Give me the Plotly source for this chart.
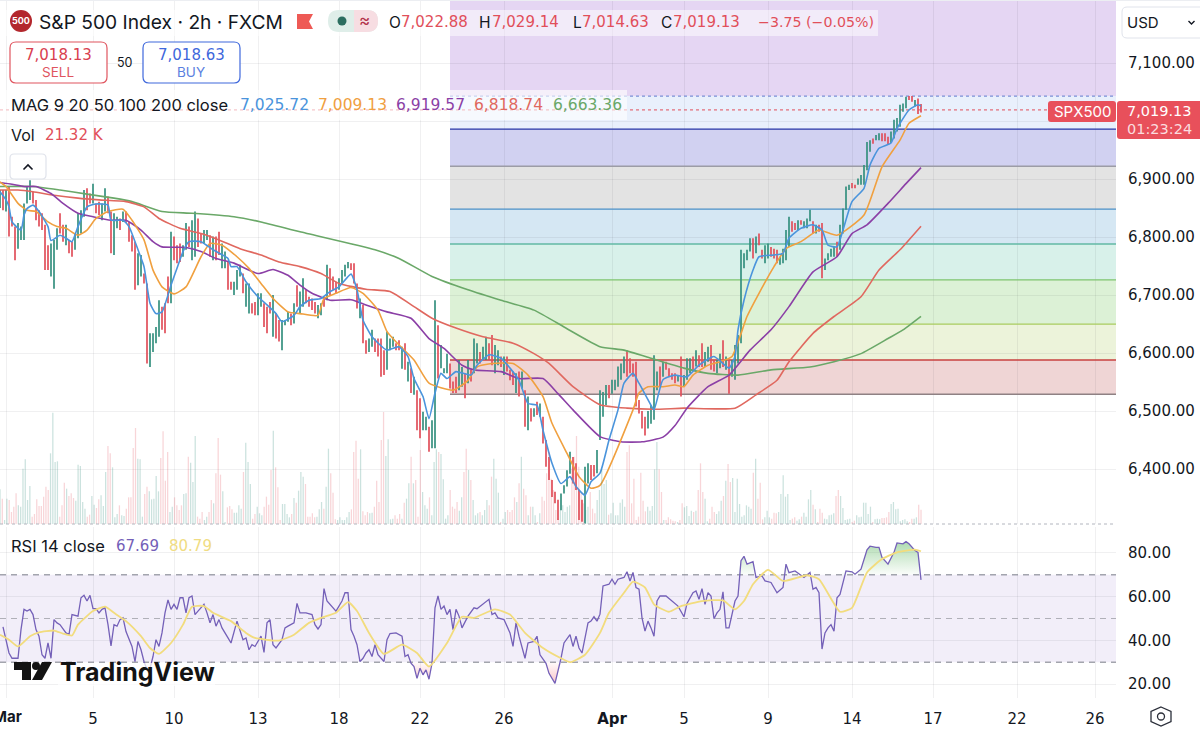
"""
plot.py - S&P 500 2h chart with moving averages, fib zones, volume and RSI.
"""
import plotly.graph_objects as go

# candles
opens = [
    6852, 6879, 6846, 6885, 6833, 6816, 6782, 6797, 6797, 6860,
    6866, 6876, 6862, 6844, 6839, 6819, 6784, 6734, 6713, 6780,
    6839, 6819, 6788, 6793, 6790, 6780, 6800, 6808, 6837, 6882,
    6873, 6860, 6856, 6859, 6831, 6846, 6868, 6842, 6771, 6817,
    6830, 6828, 6842, 6824, 6801, 6790, 6719, 6734, 6735, 6718,
    6578, 6604, 6619, 6630, 6678, 6684, 6730, 6688, 6799, 6784,
    6787, 6768, 6780, 6816, 6762, 6768, 6830, 6804, 6791, 6797,
    6801, 6762, 6799, 6807, 6748, 6748, 6755, 6721, 6702, 6711,
    6734, 6735, 6682, 6670, 6684, 6686, 6667, 6682, 6684, 6678,
    6686, 6630, 6666, 6655, 6607, 6650, 6656, 6666, 6653, 6715,
    6670, 6682, 6707, 6695, 6692, 6686, 6662, 6667, 6695, 6693,
    6744, 6730, 6721, 6711, 6722, 6734, 6748, 6753, 6753, 6718,
    6662, 6681, 6620, 6604, 6613, 6623, 6623, 6623, 6603, 6573,
    6607, 6613, 6615, 6620, 6575, 6615, 6553, 6572, 6530, 6534,
    6520, 6469, 6469, 6471, 6438, 6438, 6646, 6576, 6566, 6567,
    6580, 6549, 6557, 6538, 6544, 6563, 6550, 6569, 6567, 6584,
    6600, 6590, 6590, 6615, 6629, 6567, 6581, 6592, 6564, 6592,
    6569, 6566, 6533, 6566, 6541, 6534, 6469, 6503, 6492, 6514,
    6492, 6488, 6448, 6419, 6379, 6359, 6345, 6331, 6360, 6372,
    6394, 6419, 6408, 6362, 6345, 6308, 6377, 6405, 6405, 6395,
    6452, 6492, 6512, 6543, 6532, 6538, 6544, 6556, 6567, 6603,
    6589, 6580, 6583, 6517, 6498, 6488, 6472, 6480, 6487, 6538,
    6575, 6561, 6583, 6572, 6563, 6563, 6553, 6592, 6544, 6556,
    6567, 6592, 6579, 6594, 6615, 6578, 6587, 6612, 6586, 6567,
    6576, 6620, 6573, 6586, 6561, 6556, 6584, 6619, 6748, 6762,
    6777, 6796, 6774, 6804, 6776, 6757, 6765, 6781, 6778, 6776,
    6754, 6757, 6762, 6785, 6825, 6822, 6814, 6827, 6817, 6817,
    6829, 6825, 6808, 6819, 6822, 6745, 6762, 6768, 6768, 6790,
    6780, 6808, 6849, 6883, 6891, 6888, 6892, 6892, 6892, 6917,
    6949, 6968, 6969, 6969, 6977, 6977, 6971, 6964, 6972, 6984,
    6992, 7018, 7024, 7041, 7041, 7027, 7037, 7022.88,
]
highs = [
    6881, 6881, 6881, 6887, 6835, 6818, 6824, 6818, 6858, 6887,
    6898, 6878, 6864, 6846, 6841, 6821, 6786, 6789, 6795, 6815,
    6841, 6821, 6821, 6795, 6792, 6806, 6841, 6846, 6881, 6884,
    6875, 6892, 6858, 6861, 6858, 6884, 6870, 6844, 6841, 6835,
    6832, 6844, 6844, 6826, 6803, 6792, 6772, 6769, 6737, 6720,
    6634, 6634, 6645, 6691, 6680, 6686, 6732, 6809, 6801, 6786,
    6789, 6786, 6824, 6818, 6829, 6844, 6832, 6806, 6812, 6812,
    6803, 6801, 6801, 6809, 6789, 6775, 6757, 6723, 6723, 6743,
    6752, 6737, 6720, 6720, 6686, 6688, 6703, 6703, 6686, 6680,
    6688, 6700, 6668, 6657, 6657, 6657, 6671, 6668, 6686, 6717,
    6706, 6729, 6709, 6697, 6694, 6688, 6683, 6686, 6697, 6752,
    6746, 6732, 6723, 6729, 6743, 6752, 6757, 6755, 6755, 6720,
    6694, 6683, 6622, 6625, 6640, 6625, 6625, 6625, 6605, 6637,
    6625, 6628, 6617, 6622, 6611, 6617, 6585, 6574, 6559, 6536,
    6522, 6499, 6490, 6473, 6484, 6691, 6648, 6614, 6574, 6599,
    6582, 6551, 6559, 6588, 6576, 6565, 6588, 6571, 6625, 6617,
    6602, 6611, 6628, 6617, 6631, 6614, 6605, 6594, 6594, 6594,
    6571, 6568, 6565, 6568, 6568, 6536, 6525, 6505, 6505, 6516,
    6513, 6490, 6450, 6421, 6381, 6361, 6347, 6358, 6372, 6398,
    6430, 6421, 6410, 6364, 6347, 6404, 6410, 6407, 6407, 6433,
    6536, 6533, 6545, 6545, 6554, 6554, 6577, 6582, 6594, 6605,
    6591, 6582, 6585, 6519, 6500, 6490, 6500, 6510, 6596, 6568,
    6577, 6585, 6585, 6574, 6565, 6565, 6562, 6594, 6562, 6591,
    6591, 6594, 6605, 6596, 6617, 6602, 6611, 6614, 6588, 6588,
    6599, 6622, 6594, 6588, 6588, 6614, 6631, 6778, 6772, 6778,
    6798, 6798, 6801, 6806, 6778, 6786, 6789, 6783, 6780, 6778,
    6766, 6780, 6812, 6835, 6827, 6824, 6829, 6829, 6827, 6832,
    6847, 6827, 6821, 6821, 6824, 6763, 6772, 6780, 6783, 6792,
    6821, 6849, 6887, 6890, 6893, 6890, 6901, 6907, 6924, 6964,
    6967, 6970, 6976, 6979, 6979, 6979, 6973, 6982, 7002, 7005,
    7028, 7030, 7042, 7043, 7043, 7036, 7039, 7029.14,
]
lows = [
    6850, 6846, 6844, 6801, 6818, 6760, 6780, 6795, 6795, 6858,
    6864, 6858, 6829, 6818, 6812, 6743, 6743, 6732, 6711, 6778,
    6806, 6792, 6786, 6772, 6766, 6778, 6798, 6806, 6835, 6846,
    6858, 6858, 6841, 6838, 6829, 6844, 6841, 6772, 6769, 6815,
    6812, 6826, 6824, 6792, 6775, 6709, 6717, 6732, 6720, 6582,
    6576, 6602, 6617, 6628, 6640, 6634, 6686, 6686, 6760, 6755,
    6757, 6766, 6778, 6783, 6760, 6766, 6783, 6789, 6789, 6795,
    6766, 6760, 6760, 6769, 6746, 6746, 6709, 6709, 6700, 6709,
    6732, 6703, 6680, 6668, 6668, 6665, 6665, 6680, 6645, 6634,
    6668, 6628, 6625, 6620, 6605, 6648, 6654, 6648, 6651, 6680,
    6668, 6680, 6686, 6680, 6674, 6668, 6660, 6665, 6680, 6691,
    6700, 6709, 6703, 6709, 6720, 6732, 6746, 6743, 6720, 6677,
    6660, 6617, 6599, 6602, 6611, 6602, 6594, 6559, 6562, 6571,
    6605, 6611, 6605, 6605, 6573, 6571, 6551, 6531, 6528, 6467,
    6453, 6467, 6467, 6430, 6436, 6436, 6556, 6574, 6565, 6565,
    6539, 6531, 6531, 6536, 6542, 6522, 6548, 6551, 6565, 6582,
    6582, 6588, 6588, 6588, 6579, 6565, 6579, 6576, 6562, 6568,
    6553, 6545, 6531, 6525, 6539, 6473, 6467, 6482, 6490, 6493,
    6490, 6444, 6404, 6381, 6352, 6341, 6312, 6329, 6358, 6370,
    6392, 6375, 6364, 6312, 6309, 6306, 6375, 6381, 6387, 6393,
    6450, 6490, 6510, 6522, 6530, 6536, 6542, 6554, 6565, 6559,
    6565, 6559, 6508, 6496, 6470, 6458, 6470, 6478, 6485, 6536,
    6542, 6559, 6571, 6559, 6554, 6548, 6551, 6525, 6542, 6554,
    6565, 6571, 6577, 6576, 6576, 6576, 6585, 6571, 6568, 6565,
    6574, 6576, 6571, 6530, 6559, 6554, 6582, 6617, 6746, 6760,
    6775, 6763, 6772, 6786, 6763, 6755, 6763, 6766, 6763, 6755,
    6752, 6755, 6760, 6783, 6809, 6812, 6812, 6821, 6815, 6815,
    6827, 6806, 6806, 6809, 6729, 6743, 6760, 6766, 6766, 6766,
    6778, 6806, 6847, 6881, 6884, 6884, 6890, 6890, 6890, 6915,
    6947, 6961, 6967, 6967, 6965, 6965, 6959, 6962, 6970, 6982,
    6990, 7016, 7022, 7036, 7033, 7025, 7012, 7014.63,
]
closes = [
    6879, 6848, 6879, 6803, 6820, 6762, 6822, 6816, 6856, 6885,
    6896, 6860, 6831, 6820, 6814, 6745, 6745, 6787, 6793, 6813,
    6808, 6794, 6819, 6774, 6768, 6804, 6839, 6844, 6879, 6848,
    6860, 6890, 6843, 6840, 6856, 6882, 6843, 6774, 6839, 6833,
    6814, 6842, 6826, 6794, 6777, 6711, 6770, 6767, 6722, 6584,
    6632, 6632, 6643, 6689, 6642, 6636, 6688, 6807, 6762, 6757,
    6759, 6784, 6822, 6785, 6827, 6842, 6785, 6791, 6810, 6810,
    6768, 6799, 6762, 6771, 6787, 6773, 6711, 6711, 6721, 6741,
    6750, 6705, 6718, 6718, 6670, 6667, 6701, 6701, 6647, 6636,
    6670, 6698, 6627, 6622, 6655, 6655, 6669, 6650, 6684, 6682,
    6704, 6727, 6688, 6682, 6676, 6670, 6681, 6684, 6682, 6750,
    6702, 6711, 6705, 6727, 6741, 6750, 6755, 6745, 6722, 6679,
    6692, 6619, 6601, 6623, 6638, 6604, 6596, 6561, 6564, 6635,
    6623, 6626, 6607, 6607, 6609, 6573, 6583, 6533, 6557, 6469,
    6455, 6497, 6488, 6432, 6482, 6689, 6558, 6612, 6573, 6597,
    6541, 6533, 6533, 6586, 6574, 6524, 6586, 6553, 6623, 6615,
    6584, 6609, 6626, 6590, 6581, 6612, 6603, 6578, 6592, 6570,
    6555, 6547, 6563, 6527, 6566, 6475, 6523, 6484, 6503, 6495,
    6511, 6446, 6406, 6383, 6354, 6343, 6314, 6356, 6370, 6396,
    6428, 6377, 6366, 6314, 6311, 6402, 6408, 6383, 6389, 6431,
    6534, 6531, 6543, 6524, 6552, 6552, 6575, 6580, 6592, 6561,
    6567, 6561, 6510, 6498, 6472, 6460, 6498, 6508, 6594, 6566,
    6544, 6583, 6573, 6561, 6556, 6550, 6560, 6527, 6560, 6589,
    6589, 6573, 6603, 6578, 6578, 6600, 6609, 6573, 6570, 6586,
    6597, 6578, 6592, 6532, 6586, 6612, 6629, 6776, 6770, 6776,
    6796, 6765, 6799, 6788, 6765, 6784, 6787, 6768, 6765, 6757,
    6764, 6778, 6810, 6833, 6811, 6814, 6827, 6823, 6825, 6830,
    6845, 6808, 6819, 6811, 6731, 6761, 6770, 6778, 6781, 6768,
    6819, 6847, 6885, 6888, 6886, 6886, 6899, 6905, 6922, 6962,
    6965, 6963, 6974, 6977, 6967, 6967, 6961, 6980, 7000, 7003,
    7026, 7028, 7040, 7038, 7035, 7034, 7014, 7019.13,
]

# volume in thousands, finer spacing than the candles above
volumes = [
    52, 38, 6, 38, 36, 18, 26, 46, 28, 26, 83, 97, 36, 57, 11, 15, 37, 27, 27, 41,
    56, 51, 106, 167, 93, 94, 11, 28, 62, 53, 42, 46, 39, 35, 89, 87, 33, 23, 11, 14,
    42, 29, 24, 37, 43, 27, 78, 117, 106, 85, 10, 15, 28, 13, 12, 23, 40, 40, 114, 144,
    98, 97, 11, 45, 56, 49, 37, 38, 72, 49, 99, 139, 65, 108, 18, 26, 40, 28, 21, 28,
    45, 46, 101, 92, 63, 132, 11, 8, 18, 6, 11, 18, 36, 31, 76, 129, 74, 49, 3, 25,
    27, 22, 17, 17, 28, 23, 78, 122, 93, 60, 8, 15, 26, 16, 13, 26, 41, 29, 81, 140,
    85, 55, 6, 30, 30, 15, 10, 15, 39, 32, 50,
    78, 71, 60, 11, 11, 16, 10, 11, 22, 33, 23, 56, 113, 76, 47, 7, 6, 10, 6, 6,
    10, 18, 22, 108, 125, 68, 112, 19, 13, 18, 16, 17, 26, 65, 33, 126, 168, 102, 127, 7,
    8, 13, 8, 15, 8, 32, 38, 61, 101, 61, 66, 11, 111, 48, 28, 23, 40, 13, 93, 112,
    108, 105, 67, 8, 13, 51, 26, 23, 33, 20, 40, 78, 113, 81, 66, 36, 13, 16, 18, 13,
    21, 36, 28, 71, 98, 68, 47, 3, 8, 18, 21, 18, 21, 40, 33, 61, 101, 53, 43, 13,
    26, 26, 13, 3, 16, 41, 35, 76, 108, 68, 51, 21, 8, 21, 28, 18, 26, 28, 83, 101,
    132, 86, 46, 31, 21, 26, 48, 23, 16, 36, 51,
    82, 60, 66, 14, 16, 32, 13, 13, 32, 37, 26, 108, 118, 31, 68, 6, 11, 77, 35, 19, 26,
    20, 27, 82, 123, 82, 48, 6, 6, 10, 7, 5, 4, 3, 6, 31, 25, 27, 12, 20, 18,
    20, 51, 91, 48, 38, 4, 8, 26, 18, 15, 19, 35, 42, 65, 90, 63, 69, 18, 68, 30,
    11, 13, 28, 26, 23, 77, 98, 38, 62, 7, 10, 20, 10, 8, 17, 16, 18, 45, 73, 41,
    45, 6, 8, 10, 5, 7, 11, 17, 11, 37, 51, 29, 22, 3, 23, 17, 8, 7, 13, 14,
    16, 42, 51, 42, 24, 6, 7, 8, 3, 5, 13, 10, 11, 32, 32, 15, 26, 3, 7, 8,
    7, 9, 9, 10, 18, 30, 33, 22, 23, 4, 6, 7, 4, 3, 8, 8, 10, 29, 21.32,
]

# moving averages, sampled where the line changes direction
ma9_x = [
    0, 2, 3, 4, 7, 8, 9, 11, 13, 16, 17, 20, 22, 24, 26, 29, 32, 36, 37, 41, 43, 46, 48, 50,
    52, 54, 57, 59, 61, 63, 67, 71, 76, 77, 79, 82, 86, 89, 92, 94, 98, 100, 103, 107, 110,
    113, 117, 119, 121, 124, 129, 133, 136, 138, 141, 143, 145, 147, 149, 152, 157, 159, 163,
    167, 170, 173, 176, 179, 181, 184, 187, 190, 192, 195, 197, 200, 203, 206, 208, 211, 213,
    217, 218, 221, 225, 229, 233, 238, 243, 245, 246, 248, 251, 253, 258, 261, 263, 267, 271,
    274, 276, 279, 281, 284, 288, 290, 293, 297, 299, 303, 306, 307,
]
ma9 = [
    6878, 6864, 6852, 6826, 6812, 6838, 6849, 6855, 6844, 6818, 6794, 6803, 6798, 6792, 6818,
    6852, 6857, 6855, 6829, 6829, 6818, 6778, 6749, 6686, 6668, 6671, 6717, 6746, 6775, 6792,
    6792, 6778, 6763, 6749, 6749, 6723, 6697, 6683, 6668, 6654, 6665, 6680, 6691, 6694, 6706,
    6714, 6736, 6709, 6657, 6628, 6605, 6611, 6594, 6556, 6525, 6487, 6531, 6565, 6556, 6568,
    6562, 6579, 6597, 6591, 6574, 6553, 6513, 6510, 6467, 6410, 6375, 6387, 6370, 6355, 6378,
    6393, 6450, 6502, 6548, 6565, 6548, 6510, 6502, 6554, 6562, 6559, 6579, 6594, 6574, 6594,
    6640, 6691, 6743, 6766, 6769, 6772, 6798, 6815, 6821, 6812, 6786, 6783, 6812, 6861, 6884,
    6924, 6953, 6962, 6987, 7019, 7028, 7025.72,
]
ma20_x = [
    0, 2, 6, 9, 12, 16, 19, 22, 26, 29, 32, 36, 41, 44, 48, 51, 54, 58, 62, 67, 70, 74, 79,
    83, 87, 91, 96, 100, 106, 108, 112, 117, 121, 126, 129, 133, 138, 143, 151, 156, 159, 164,
    171, 176, 181, 184, 189, 193, 197, 200, 211, 213, 216, 221, 225, 228, 231, 236, 240, 244,
    249, 253, 258, 262, 267, 273, 279, 288, 294, 300, 303, 307,
]
ma20 = [
    6895, 6887, 6858, 6846, 6844, 6826, 6818, 6815, 6803, 6812, 6832, 6844, 6848, 6829, 6795,
    6743, 6714, 6702, 6714, 6766, 6789, 6786, 6766, 6746, 6720, 6694, 6671, 6668, 6665, 6694,
    6703, 6713, 6703, 6674, 6637, 6614, 6588, 6548, 6536, 6553, 6576, 6582, 6582, 6562, 6525,
    6479, 6427, 6387, 6367, 6372, 6502, 6531, 6542, 6542, 6545, 6542, 6562, 6579, 6585, 6594,
    6663, 6703, 6749, 6780, 6792, 6812, 6803, 6838, 6921, 6967, 6996, 7009.13,
]
ma50_x = [
    0, 4, 8, 12, 17, 21, 26, 31, 37, 42, 47, 51, 54, 62, 67, 72, 78, 86, 91, 96, 100, 104, 110,
    117, 122, 129, 137, 143, 148, 154, 158, 167, 173, 181, 186, 191, 200, 207, 214, 221, 225,
    229, 236, 243, 250, 257, 263, 271, 279, 284, 289, 296, 302, 307,
]
ma50 = [
    6894, 6891, 6887, 6887, 6875, 6858, 6841, 6835, 6829, 6829, 6812, 6792, 6783, 6782, 6775,
    6763, 6755, 6737, 6744, 6734, 6717, 6703, 6691, 6692, 6683, 6671, 6660, 6625, 6608, 6579,
    6571, 6568, 6556, 6556, 6530, 6502, 6456, 6447, 6447, 6455, 6475, 6505, 6542, 6562, 6605,
    6640, 6680, 6740, 6766, 6806, 6821, 6858, 6892, 6919.57,
]
ma100_x = [
    0, 6, 11, 18, 26, 33, 42, 48, 53, 60, 67, 73, 80, 87, 93, 100, 107, 113, 122, 130, 138, 144,
    152, 161, 171, 178, 183, 191, 200, 209, 218, 228, 245, 252, 259, 263, 271, 278, 287, 293,
    300, 307,
]
ma100 = [
    6881, 6881, 6878, 6872, 6867, 6864, 6861, 6852, 6832, 6815, 6806, 6795, 6780, 6769, 6757,
    6749, 6737, 6720, 6710, 6706, 6680, 6660, 6643, 6628, 6617, 6599, 6582, 6542, 6511, 6505,
    6503, 6505, 6505, 6528, 6553, 6585, 6634, 6663, 6697, 6743, 6778, 6818.74,
]
ma200_x = [
    0, 11, 20, 29, 38, 44, 54, 64, 78, 87, 100, 125, 133, 144, 156, 167, 178, 189, 200, 208,
    217, 228, 236, 246, 257, 270, 278, 287, 296, 301, 307,
]
ma200 = [
    6887, 6887, 6881, 6874, 6867, 6861, 6844, 6841, 6835, 6826, 6809, 6778, 6763, 6732, 6709,
    6691, 6674, 6642, 6611, 6605, 6591, 6574, 6565, 6562, 6571, 6576, 6585, 6599, 6625, 6640,
    6663.36,
]

# fib levels drawn from the swing, top to bottom
fib_top = 7209
fib_levels = [7043, 6986, 6922, 6848, 6788, 6726, 6650, 6588, 6529]
fib_fills = [
    "#e5d6f3", "#e9f0fc", "#d1d1f1", "#e3e3e3", "#d5e7f3",
    "#d8f1ea", "#dcf1d6", "#ecf3da", "#efd5d5",
]
fib_lines = [
    "#7b8fd6", "#2433a6", "#9c9ca6", "#4a8fc7", "#62b8a4",
    "#7fc46e", "#a9cc5e", "#c8403f", "#8f8184",
]
fib_start = 150

rsi_x = [
    1, 2, 3, 4, 6, 7, 8, 9, 10, 11, 12, 13, 14, 15, 16, 17, 18, 19, 20, 22, 23, 24, 26, 27, 28,
    29, 30, 31, 32, 33, 34, 35, 36, 37, 38, 39, 40, 41, 42, 44, 45, 46, 47, 48, 49, 50, 51, 52,
    53, 54, 55, 56, 57, 58, 59, 60, 61, 62, 63, 64, 65, 66, 68, 69, 70, 71, 72, 73, 74, 76, 77,
    79, 81, 82, 83, 84, 85, 87, 88, 89, 90, 91, 92, 94, 95, 96, 98, 99, 100, 102, 104, 105, 106,
    107, 108, 109, 110, 111, 112, 114, 115, 116, 117, 118, 119, 120, 121, 122, 123, 124, 125,
    126, 128, 129, 130, 132, 134, 135, 136, 137, 138, 139, 140, 141, 142, 143, 144, 145, 146,
    147, 148, 149, 150, 151, 152, 153, 154, 156, 158, 159, 161, 163, 164, 165, 166, 168, 170,
    171, 172, 173, 175, 176, 178, 179, 180, 182, 183, 185, 187, 188, 190, 191, 192, 193, 194,
    196, 197, 198, 199, 200, 201, 203, 204, 205, 206, 208, 209, 210, 211, 212, 213, 214, 215,
    216, 217, 218, 219, 220, 222, 224, 226, 228, 229, 231, 232, 233, 234, 235, 236, 237, 238,
    239, 240, 241, 242, 243, 245, 246, 247, 248, 249, 251, 252, 254, 255, 257, 259, 261, 262,
    263, 265, 268, 270, 271, 272, 273, 274, 275, 276, 277, 278, 279, 280, 282, 284, 285, 287,
    289, 290, 292, 293, 294, 296, 298, 299, 301, 302, 303, 305, 306, 307,
]
rsi = [
    46.2, 40.3, 34.2, 31.8, 31.8, 44.9, 54.2, 53.4, 54.2, 51.8, 44.9, 41.9, 33.4, 31.8, 38.8,
    31.8, 49.5, 48, 47.2, 43.4, 42.6, 51.8, 51.1, 59.5, 60.6, 58, 60.6, 54.5, 54.5, 52.6, 54.2,
    54.9, 47.2, 37.5, 47.2, 46.5, 49.5, 50.3, 44, 37.2, 30.3, 39.5, 35.7, 30.3, 26.5, 27.2, 32.6,
    40.3, 37.2, 43.4, 52.6, 58.5, 54.2, 56.5, 54.2, 59.5, 59.5, 52.6, 59.5, 60.3, 51.8, 53.4,
    56.5, 52.6, 48, 51.8, 46.5, 49.5, 45.7, 41.1, 38.8, 48.8, 40.3, 41.1, 35.7, 38, 37.2, 41.9,
    34.5, 48, 49.5, 38, 36.5, 40.3, 45.7, 46.5, 48, 56.9, 52.6, 52.6, 51.8, 47.2, 45.2, 47.2,
    63.7, 58, 56.5, 54.9, 53.4, 58, 61.8, 61.8, 44.9, 41.9, 38, 30.3, 31.8, 34.2, 35.7, 32.6,
    38, 33.4, 30.3, 40.3, 43.1, 43.4, 41.9, 32.6, 33.4, 29.5, 28, 22.6, 27.2, 24.2, 26.5, 22.2,
    29.5, 54.9, 60.3, 54.2, 55.7, 51.8, 54.2, 44.9, 54.2, 51.1, 45.7, 51.1, 54.9, 54.5, 56.5,
    58.8, 51.8, 52.6, 50.3, 49.5, 43.4, 37.2, 48, 41.9, 31.8, 38.8, 39.5, 41.9, 33.4, 29.5, 24.9,
    20.3, 31.8, 38.8, 42.6, 37.2, 41.9, 36.5, 34.2, 48, 48.8, 50.8, 48.8, 52, 64.9, 65.7, 68,
    65.7, 68, 68.8, 71.4, 67.2, 71.1, 64.2, 63.4, 50.3, 44.2, 48.8, 45.7, 41.9, 58, 60.3, 60.3,
    58, 55.7, 50.8, 56.9, 61.8, 62.6, 58.8, 63.7, 56.5, 61.8, 60.3, 49.9, 52.6, 54.2, 62.2, 45.7,
    45.7, 58, 60.3, 76.5, 78.5, 74.9, 76, 68.8, 69.5, 67.2, 66.5, 61.8, 64.2, 74.9, 71, 71.8,
    68.8, 71.1, 63.4, 64.2, 61.8, 36, 43.4, 45.7, 47.2, 44.2, 59.5, 61, 71.8, 71.4, 70.3, 72.6,
    81.5, 83.1, 82.6, 82.6, 78, 74.9, 80.3, 84.6, 84.2, 85.2, 84.2, 81.1, 80.3, 67.69,
]
rsi_ma_x = [
    0, 3, 6, 10, 13, 18, 21, 24, 26, 31, 35, 38, 42, 47, 50, 53, 57, 61, 64, 68, 71, 77, 82, 85,
    93, 98, 103, 107, 112, 116, 119, 123, 128, 134, 139, 143, 149, 154, 158, 165, 170, 175, 181,
    187, 190, 195, 200, 203, 208, 211, 215, 218, 223, 227, 234, 241, 245, 248, 251, 256, 261,
    269, 273, 280, 284, 289, 294, 299, 305, 307,
]
rsi_ma = [
    42.6, 40.3, 37.2, 41.9, 43.7, 44.5, 43.1, 42.2, 47.2, 53.4, 55.4, 52.6, 48.8, 41.9, 36.5, 33.8,
    38.8, 47.2, 55.4, 55.7, 52.6, 48.8, 43.4, 41.1, 39.9, 42.6, 48, 50.3, 52.6, 57.5, 53.4, 43.4,
    33.8, 38, 34.2, 28, 38.8, 50.8, 50.3, 54.2, 51.8, 43.4, 36.5, 31.8, 30, 33.4, 43.4, 52.6, 61.8,
    66.9, 64.2, 56.5, 53.1, 55.7, 58, 58.3, 54.2, 58, 65.7, 72.3, 67.2, 69.8, 68, 53.1, 54.9, 71.1,
    77.2, 80.3, 81.5, 80.79,
]

price_ticks = [7100, 7000, 6900, 6800, 6700, 6600, 6500, 6400]
# 7,000 keeps its gridline but the label sits under the last price tag
price_labels = ["7,100.00", "", "6,900.00", "6,800.00", "6,700.00", "6,600.00", "6,500.00", "6,400.00"]
rsi_ticks = [80, 60, 40, 20]
time_ticks = [2, 31, 58, 86, 113, 140, 168, 204, 228, 256, 284, 311, 339, 365]
time_labels = ["", "5", "10", "13", "18", "22", "26", "<b>Apr</b>", "5", "9", "14", "17", "22", "26"]

W, H = 1200, 731
UP = "#35907f"
DOWN = "#e14f5a"
GRID = "rgba(42,46,57,0.07)"
TEXT = "#131722"
FONT = "Inter"
NUM_FONT = "DejaVu Sans"
X_END = 372


def px(x):
    return x / W


def py(y):
    return 1 - y / H


def paper_rect(x0, y0, x1, y1, **kw):
    return dict(type="rect", xref="paper", yref="paper", x0=px(x0), x1=px(x1), y0=py(y0), y1=py(y1), **kw)


def rounded(x0, y0, x1, y1, r):
    # rounded rectangle in paper coordinates
    a, b, c, d = px(x0), py(y0), px(x1), py(y1)
    rx, ry = r / W, r / H
    return (
        f"M {a + rx},{b} L {c - rx},{b} Q {c},{b} {c},{b - ry} L {c},{d + ry} Q {c},{d} {c - rx},{d} "
        f"L {a + rx},{d} Q {a},{d} {a},{d + ry} L {a},{b - ry} Q {a},{b} {a + rx},{b} Z"
    )


def poly(points):
    return "M " + " L ".join(f"{px(x)},{py(y)}" for x, y in points) + " Z"


fig = go.Figure()

# volume sits behind the candles
vol_x = [i * 307 / (len(volumes) - 1) for i in range(len(volumes))]
vol_colors = []
for i in range(len(volumes)):
    j = min(int(round(vol_x[i])), len(closes) - 1)
    vol_colors.append("rgba(53,144,127,0.26)" if closes[j] >= opens[j] else "rgba(225,79,90,0.24)")
fig.add_trace(go.Bar(x=vol_x, y=volumes, yaxis="y2", marker=dict(color=vol_colors, line_width=0), width=0.42))

# tickless ohlc bars, the candles on this chart are barely wider than their wicks
fig.add_trace(go.Ohlc(
    x=list(range(len(closes))), open=opens, high=highs, low=lows, close=closes,
    increasing=dict(line=dict(color=UP, width=1.7)),
    decreasing=dict(line=dict(color=DOWN, width=1.7)),
    tickwidth=0,
))

ma_series = [
    (ma200_x, ma200, "#6aa868"),
    (ma100_x, ma100, "#e0685f"),
    (ma50_x, ma50, "#8b3fa6"),
    (ma20_x, ma20, "#f0a03f"),
    (ma9_x, ma9, "#4a94dc"),
]
for xs, ys, color in ma_series:
    fig.add_trace(go.Scatter(x=xs, y=ys, mode="lines", line=dict(color=color, width=1.6, shape="spline", smoothing=0.5)))

# RSI with the overbought / oversold gradient
over = [max(v, 70) for v in rsi]
under = [min(v, 30) for v in rsi]
fig.add_trace(go.Scatter(x=rsi_x, y=[70] * len(rsi_x), mode="lines", line_width=0, xaxis="x2", yaxis="y3"))
fig.add_trace(go.Scatter(
    x=rsi_x, y=over, mode="lines", line_width=0, xaxis="x2", yaxis="y3", fill="tonexty",
    fillgradient=dict(type="vertical", start=70, stop=85,
                      colorscale=[[0, "rgba(76,175,80,0.02)"], [1, "rgba(76,175,80,0.45)"]]),
))
fig.add_trace(go.Scatter(x=rsi_x, y=[30] * len(rsi_x), mode="lines", line_width=0, xaxis="x2", yaxis="y3"))
fig.add_trace(go.Scatter(
    x=rsi_x, y=under, mode="lines", line_width=0, xaxis="x2", yaxis="y3", fill="tonexty",
    fillgradient=dict(type="vertical", start=20, stop=30,
                      colorscale=[[0, "rgba(242,54,69,0.3)"], [1, "rgba(242,54,69,0.02)"]]),
))
fig.add_trace(go.Scatter(x=rsi_x, y=rsi, mode="lines", xaxis="x2", yaxis="y3", line=dict(color="#7460b8", width=1.3)))
fig.add_trace(go.Scatter(x=rsi_ma_x, y=rsi_ma, mode="lines", xaxis="x2", yaxis="y3",
                         line=dict(color="#f2dc7d", width=1.8, shape="spline", smoothing=0.5)))

shapes = []

# fib zones and their level lines
tops = [fib_top] + fib_levels[:-1]
for top, bottom, fill, line in zip(tops, fib_levels, fib_fills, fib_lines):
    shapes.append(dict(type="rect", xref="x", yref="y", x0=fib_start, x1=X_END, y0=bottom, y1=top,
                       fillcolor=fill, line_width=0, layer="below"))
    shapes.append(dict(type="line", xref="x", yref="y", x0=fib_start, x1=X_END, y0=bottom, y1=bottom,
                       line=dict(color=line, width=1.3, dash="dot" if bottom == fib_levels[0] else "solid"),
                       layer="between"))

# last price line
shapes.append(dict(type="line", xref="x", yref="y", x0=0, x1=X_END, y0=closes[-1], y1=closes[-1],
                   line=dict(color="#e14f5a", width=1, dash="dot"), layer="between"))

# RSI band
shapes.append(dict(type="rect", xref="x2", yref="y3", x0=0, x1=X_END, y0=30, y1=70,
                   fillcolor="rgba(126,87,194,0.1)", line_width=0, layer="below"))
for level, color in [(70, "#787b86"), (50, "#b0b0b8"), (30, "#787b86")]:
    shapes.append(dict(type="line", xref="x2", yref="y3", x0=0, x1=X_END, y0=level, y1=level,
                       line=dict(color=color, width=1, dash="6px,5px"), layer="between"))

# pane separator and top edge
shapes.append(dict(type="line", xref="paper", yref="paper", x0=0, x1=px(1116), y0=py(524), y1=py(524),
                   line=dict(color="#b2b5be", width=1, dash="dot")))
shapes.append(dict(type="line", xref="paper", yref="paper", x0=0, x1=1, y0=py(0.5), y1=py(0.5),
                   line=dict(color="#eceef2", width=1)))

# legend rows wash out what is behind them
shapes.append(paper_rect(0, 10, 878, 36, fillcolor="rgba(255,255,255,0.5)", line_width=0))
shapes.append(paper_rect(0, 90, 627, 120, fillcolor="rgba(255,255,255,0.6)", line_width=0))

# symbol logo, flag, market status pill
shapes.append(dict(type="circle", xref="paper", yref="paper", x0=px(10), x1=px(32), y0=py(32), y1=py(10),
                   fillcolor="#b3272d", line_width=0))
shapes.append(dict(type="path", xref="paper", yref="paper", fillcolor="#ee5a55", line_width=0,
                   path=poly([(297, 14), (313, 14), (309, 21.5), (313, 29), (297, 29)])))
shapes.append(dict(type="path", xref="paper", yref="paper", fillcolor="#dfeee9", line_width=0, path=rounded(328, 10, 378, 32, 11)))
shapes.append(paper_rect(354, 10, 367, 32, fillcolor="#f7dde2", line_width=0))
shapes.append(dict(type="path", xref="paper", yref="paper", fillcolor="#f7dde2", line_width=0, path=rounded(356, 10, 378, 32, 11)))
shapes.append(dict(type="circle", xref="paper", yref="paper", x0=px(337.5), x1=px(346.5), y0=py(25.5), y1=py(16.5),
                   fillcolor="#2c6e60", line_width=0))

# sell / buy / collapse / currency boxes
shapes.append(dict(type="path", xref="paper", yref="paper", fillcolor="white", path=rounded(10, 42, 107, 83, 6),
                   line=dict(color="#e0555f", width=1.2)))
shapes.append(dict(type="path", xref="paper", yref="paper", fillcolor="white", path=rounded(143, 42, 240, 83, 6),
                   line=dict(color="#3f68dc", width=1.2)))
shapes.append(dict(type="path", xref="paper", yref="paper", fillcolor="white", path=rounded(10, 154, 46, 179, 4),
                   line=dict(color="#e0e3eb", width=1.2)))
shapes.append(dict(type="path", xref="paper", yref="paper", fillcolor="white", path=rounded(1122, 7, 1206, 38, 5),
                   line=dict(color="#e0e3eb", width=1)))
shapes.append(dict(type="path", xref="paper", yref="paper", line=dict(color="#131722", width=1.6),
                   path=f"M {px(23.5)},{py(169.5)} L {px(28)},{py(165)} L {px(32.5)},{py(169.5)}"))
shapes.append(dict(type="path", xref="paper", yref="paper", line=dict(color="#131722", width=1.4),
                   path=f"M {px(1188.5)},{py(21)} L {px(1191.5)},{py(24)} L {px(1194.5)},{py(21)}"))

# red price tags
shapes.append(dict(type="path", xref="paper", yref="paper", fillcolor="#e8505b", line_width=0, path=rounded(1048, 101, 1116, 122, 3)))
shapes.append(dict(type="path", xref="paper", yref="paper", fillcolor="#e8505b", line_width=0, path=rounded(1117, 101, 1204, 139, 3)))

# TradingView mark, with a soft wash under the word
shapes.append(paper_rect(58, 663, 215, 686, fillcolor="rgba(255,255,255,0.75)", line_width=0))
shapes.append(dict(type="path", xref="paper", yref="paper", fillcolor="#131313", line_width=0,
                   path=poly([(14, 662), (31, 662), (31, 680), (22, 680), (22, 670), (14, 670)])))
shapes.append(dict(type="circle", xref="paper", yref="paper", x0=px(32), x1=px(40), y0=py(670), y1=py(662),
                   fillcolor="#131313", line_width=0))
shapes.append(dict(type="path", xref="paper", yref="paper", fillcolor="#131313", line_width=0,
                   path=poly([(42, 662), (52, 662), (42, 680), (32, 680)])))

# settings hexagon
shapes.append(dict(type="path", xref="paper", yref="paper", line=dict(color="#2a2e39", width=1.3),
                   path=poly([(1161, 707), (1171, 711.5), (1171, 721.5), (1161, 726), (1151, 721.5), (1151, 711.5)])))
shapes.append(dict(type="circle", xref="paper", yref="paper", x0=px(1157.5), x1=px(1164.5), y0=py(720), y1=py(713),
                   line=dict(color="#2a2e39", width=1.3)))

notes = [
    # text, x, y, size, colour, font, anchor
    ("<b>500</b>", 21, 21, 9, "white", FONT, "center"),
    ("S&P 500 Index · 2h · FXCM", 38, 22, 19.2, TEXT, FONT, "left"),
    ("≈", 364, 20, 17, "#b3324b", FONT, "center"),
    ("O", 388, 22, 15.5, TEXT, FONT, "left"),
    ("7,022.88", 400, 22, 15, DOWN, NUM_FONT, "left"),
    ("H", 478, 22, 15.5, TEXT, FONT, "left"),
    ("7,029.14", 491, 22, 15, DOWN, NUM_FONT, "left"),
    ("L", 572, 22, 15.5, TEXT, FONT, "left"),
    ("7,014.63", 581, 22, 15, DOWN, NUM_FONT, "left"),
    ("C", 660, 22, 15.5, TEXT, FONT, "left"),
    ("7,019.13", 672, 22, 15, DOWN, NUM_FONT, "left"),
    ("−3.75 (−0.05%)", 757, 22, 14.2, DOWN, NUM_FONT, "left"),
    ("7,018.13", 58, 55, 15, "#d9404f", NUM_FONT, "center"),
    ("SELL", 58, 72, 13.5, "#e0555f", FONT, "center"),
    ("50", 125, 63, 12.5, TEXT, FONT, "center"),
    ("7,018.63", 191, 55, 15, "#3f68dc", NUM_FONT, "center"),
    ("BUY", 191, 72, 13.5, "#5a80e0", FONT, "center"),
    ("MAG 9 20 50 100 200 close", 10, 105, 16.5, TEXT, FONT, "left"),
    ("7,025.72", 239, 105, 15.5, "#4a94dc", NUM_FONT, "left"),
    ("7,009.13", 317, 105, 15.5, "#f0a03f", NUM_FONT, "left"),
    ("6,919.57", 395, 105, 15.5, "#8b3fa6", NUM_FONT, "left"),
    ("6,818.74", 473, 105, 15.5, "#e0685f", NUM_FONT, "left"),
    ("6,663.36", 552, 105, 15.5, "#6aa868", NUM_FONT, "left"),
    ("Vol", 10, 135, 16, TEXT, FONT, "left"),
    ("21.32 K", 44, 135, 15, DOWN, NUM_FONT, "left"),
    ("RSI 14 close", 10, 546, 16.5, TEXT, FONT, "left"),
    ("67.69", 115, 546, 15, "#7460b8", NUM_FONT, "left"),
    ("80.79", 168, 546, 15, "#f0dc82", NUM_FONT, "left"),
    ("USD", 1126, 23, 15, TEXT, FONT, "left"),
    ("SPX500", 1082, 111.5, 15, "white", FONT, "center"),
    ("7,019.13", 1159, 110.5, 14.5, "white", NUM_FONT, "center"),
    ("01:23:24", 1159, 129.5, 14.5, "#fbdcdf", NUM_FONT, "center"),
    ("<b>Mar</b>", 7, 716, 15, TEXT, FONT, "center"),
    ("<b>TradingView</b>", 59, 672, 25, "#131313", FONT, "left"),
]
annotations = []
for text, x, y, size, color, family, anchor in notes:
    annotations.append(dict(text=text, x=px(x), y=py(y), xref="paper", yref="paper", showarrow=False,
                            xanchor=anchor, yanchor="middle", font=dict(family=family, size=size, color=color),
                            borderpad=0))

tick_font = dict(family=NUM_FONT, size=15, color=TEXT)
fig.update_layout(
    width=W, height=H,
    margin=dict(l=0, r=0, t=0, b=0),
    paper_bgcolor="white", plot_bgcolor="white",
    showlegend=False, hovermode=False,
    barmode="overlay",
    font=dict(family=FONT, color=TEXT),
    shapes=shapes, annotations=annotations,
    xaxis=dict(domain=[0, px(1116)], range=[0, X_END], anchor="y", tickvals=time_ticks, showticklabels=False,
               gridcolor=GRID, zeroline=False, rangeslider_visible=False, ticks=""),
    xaxis2=dict(domain=[0, px(1116)], range=[0, X_END], anchor="y3", matches="x", tickvals=time_ticks,
                ticktext=time_labels, gridcolor=GRID, zeroline=False, ticks="outside", ticklen=7,
                tickcolor="rgba(0,0,0,0)", tickfont=tick_font, tickangle=0),
    yaxis=dict(domain=[py(524), 1], range=[6305.3, 7208.6], side="right", anchor="x",
               tickvals=price_ticks, ticktext=price_labels, gridcolor=GRID, zeroline=False,
               ticks="outside", ticklen=8, tickcolor="rgba(0,0,0,0)", tickfont=tick_font),
    yaxis2=dict(domain=[py(524), 1], range=[0, 786], overlaying="y", showgrid=False, showticklabels=False,
                zeroline=False, side="left"),
    yaxis3=dict(domain=[py(698), py(527)], range=[13.6, 91.9], side="right", anchor="x2",
                tickvals=rsi_ticks, ticktext=[f"{v:.2f}" for v in rsi_ticks], gridcolor=GRID, zeroline=False,
                ticks="outside", ticklen=8, tickcolor="rgba(0,0,0,0)", tickfont=tick_font),
)

fig.write_html("out.html", config={"displayModeBar": False},
               post_script="document.body.style.margin='0';document.body.style.overflow='hidden';")
